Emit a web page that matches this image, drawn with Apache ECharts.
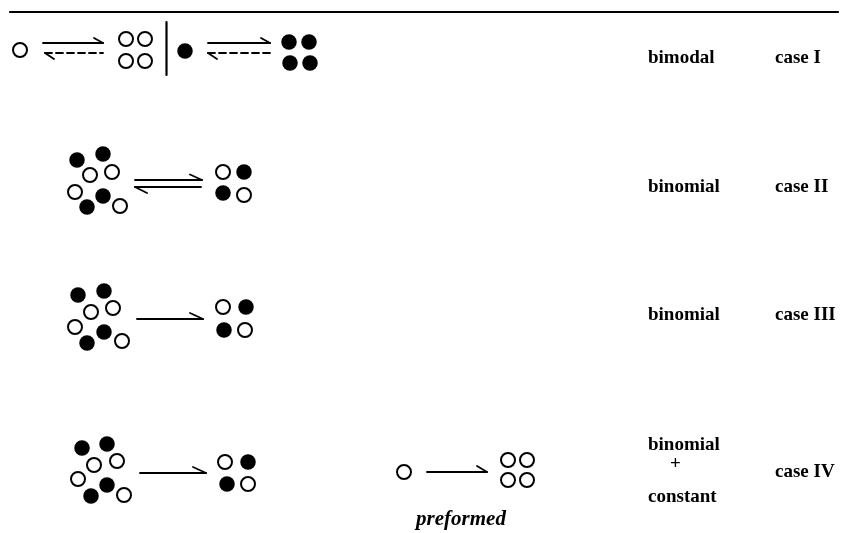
<!DOCTYPE html>
<html>
<head>
<meta charset="utf-8">
<script src="https://cdn.jsdelivr.net/npm/echarts@6/dist/echarts.min.js"></script>
<style>
    html,body{margin:0;padding:0;background:#fff;}
    #scheme{width:841px;height:533px;}
</style>
</head>
<body>
<div id="scheme"></div>
<script>
    //circles, [x, y] in page units
    var openCircles = [
        [20, 50], [126, 39], [145, 39], [126, 61], [145, 61],
        [90, 175], [112, 172], [75, 192], [120, 206], [223, 172], [244, 195],
        [91, 312], [113, 308], [75, 327], [122, 341], [223, 307], [245, 330],
        [94, 465], [117, 461], [78, 479], [124, 495], [225, 462], [248, 484],
        [404, 472], [508, 460], [527, 460], [508, 480], [527, 480]
    ];
    var filledCircles = [
        [185, 51], [289, 42], [309, 42], [290, 63], [310, 63],
        [77, 160], [103, 154], [103, 196], [87, 207], [244, 172], [223, 193],
        [78, 295], [104, 291], [104, 332], [87, 343], [246, 307], [224, 330],
        [82, 448], [107, 444], [107, 485], [91, 496], [248, 462], [227, 484]
    ];
    //arrows: shaft + half head
    var solidArrows = [
        [43, 43, 103, 43], [103, 43, 94, 38],
        [208, 43, 270, 43], [270, 43, 261, 38],
        [45, 53, 54, 59], [208, 53, 217, 59],
        [135, 180, 202, 180], [202, 180, 190, 174.5],
        [135, 187, 201, 187], [135, 187, 147, 193],
        [137, 319, 203, 319], [203, 319, 190, 313],
        [140, 473, 206, 473], [206, 473, 193, 467],
        [427, 472, 487, 472], [487, 472, 477, 466]
    ];
    var dashedArrows = [
        [45, 53, 103, 53],
        [208, 53, 270, 53]
    ];
    var rules = [
        [10, 12, 838, 12],
        [166.5, 22, 166.5, 75]
    ];
    //text
    var modelLabels = [
        [648, 58, 'bimodal'],
        [648, 187, 'binomial'],
        [648, 315, 'binomial'],
        [648, 445, 'binomial'],
        [670, 464, '+'],
        [648, 497, 'constant']
    ];
    var caseLabels = [
        [775, 58, 'case I'],
        [775, 187, 'case II'],
        [775, 315, 'case III'],
        [775, 472, 'case IV']
    ];
    var noteLabels = [
        [461, 520, 'preformed']
    ];

    function segRender(width, dash){
        return function(params, api){
            var p1 = api.coord([api.value(0), api.value(1)]);
            var p2 = api.coord([api.value(2), api.value(3)]);
            return {
                type: 'line',
                shape: {x1: p1[0], y1: p1[1], x2: p2[0], y2: p2[1]},
                style: {stroke: '#000', lineWidth: width, lineDash: dash, lineCap: 'round'}
            };
        };
    }
    function textRender(font, align){
        return function(params, api){
            var p = api.coord([api.value(0), api.value(1)]);
            return {
                type: 'text',
                style: {
                    text: api.value(2),
                    x: p[0], y: p[1],
                    fill: '#000',
                    font: font,
                    align: align,
                    verticalAlign: 'middle'
                }
            };
        };
    }
    var serif = '"Liberation Serif", "DejaVu Serif", serif';

    var option = {
        animation: false,
        backgroundColor: '#fff',
        grid: {left: 0, right: 0, top: 0, bottom: 0},
        xAxis: {type: 'value', min: 0, max: 841, show: false},
        yAxis: {type: 'value', min: 0, max: 533, inverse: true, show: false},
        series: [
            {
                type: 'custom', name: 'rules',
                renderItem: segRender(2.2, null),
                data: rules
            },
            {
                type: 'custom', name: 'arrows',
                renderItem: segRender(1.8, null),
                data: solidArrows
            },
            {
                type: 'custom', name: 'dashed',
                renderItem: segRender(1.8, [7, 4]),
                data: dashedArrows
            },
            {
                type: 'scatter', name: 'open',
                symbol: 'circle', symbolSize: 14,
                itemStyle: {color: '#fff', borderColor: '#000', borderWidth: 2, opacity: 1},
                data: openCircles
            },
            {
                type: 'scatter', name: 'filled',
                symbol: 'circle', symbolSize: 15.5,
                itemStyle: {color: '#000', opacity: 1},
                data: filledCircles
            },
            {
                type: 'custom', name: 'model',
                renderItem: textRender('bold 19px ' + serif, 'left'),
                data: modelLabels
            },
            {
                type: 'custom', name: 'case',
                renderItem: textRender('bold 19px ' + serif, 'left'),
                data: caseLabels
            },
            {
                type: 'custom', name: 'note',
                renderItem: textRender('italic bold 21px ' + serif, 'center'),
                data: noteLabels
            }
        ]
    };

    var myChart = echarts.init(document.getElementById('scheme'));
    myChart.setOption(option);
</script>
</body>
</html>
